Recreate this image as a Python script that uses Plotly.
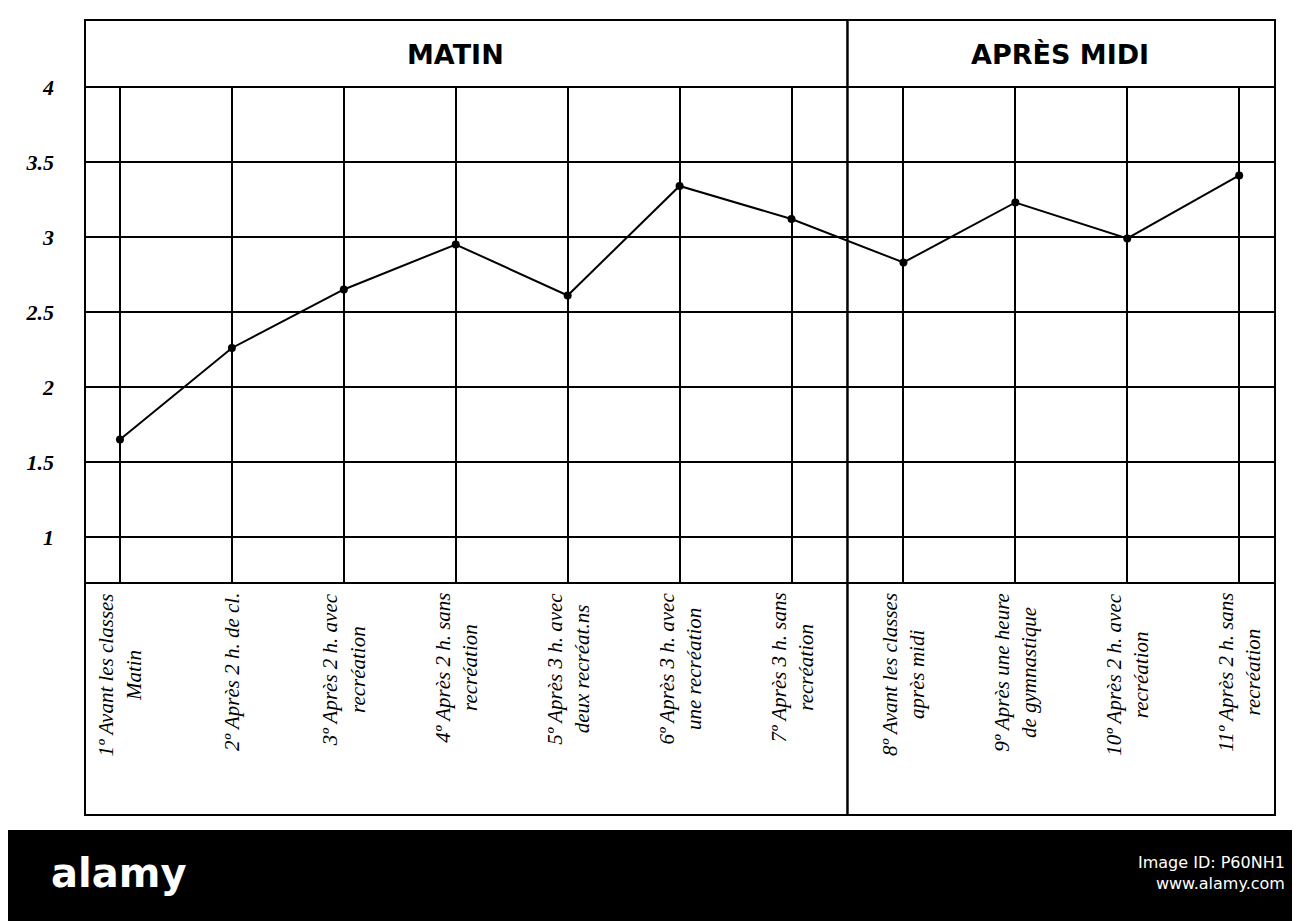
import plotly.graph_objects as go

idx = list(range(1, 12))
values = [1.65, 2.26, 2.65, 2.95, 2.61, 3.34, 3.12, 2.83, 3.23, 2.99, 3.41]
labels = ["1º Avant les classes<br>Matin", "2º Après 2 h. de cl.", "3º Après 2 h. avec<br>recréation",
          "4º Après 2 h. sans<br>recréation", "5º Après 3 h. avec<br>deux recréat.ns",
          "6º Après 3 h. avec<br>une recréation", "7º Après 3 h. sans<br>recréation",
          "8º Avant les classes<br>après midi", "9º Après une heure<br>de gymnastique",
          "10º Après 2 h. avec<br>recréation", "11º Après 2 h. sans<br>recréation"]
ytick_vals = [1, 1.5, 2, 2.5, 3, 3.5, 4]
ytick_text = ["1", "1.5", "2", "2.5", "3", "3.5", "4"]
sections = ["MATIN", "APRÈS MIDI"]

fig = go.Figure(go.Scatter(x=idx, y=values, mode="lines+markers",
                           line=dict(color="black", width=2),
                           marker=dict(color="black", size=8)))

H = 496.0
W = 1190.0
top = 1 + 67 / H
lab_bot = -232 / H
shapes = [
    dict(type="rect", xref="paper", yref="paper", x0=0, x1=1, y0=lab_bot, y1=top, line=dict(color="black", width=2)),
    dict(type="line", xref="paper", yref="paper", x0=0, x1=1, y0=1, y1=1, line=dict(color="black", width=2)),
    dict(type="line", xref="paper", yref="paper", x0=0, x1=1, y0=0, y1=0, line=dict(color="black", width=2)),
    dict(type="line", xref="x", yref="paper", x0=7.5, x1=7.5, y0=lab_bot, y1=top, line=dict(color="black", width=2.5)),
    dict(type="rect", xref="paper", yref="paper", x0=-100 / W, x1=1 + 50 / W, y0=-360 / H, y1=-247 / H,
         fillcolor="black", line=dict(width=0), layer="above"),
]
ann = []
for i, t in zip(idx, labels):
    ann.append(dict(x=i, y=-8 / H, xref="x", yref="paper", text=t, textangle=-90, showarrow=False,
                    xanchor="center", yanchor="top",
                    font=dict(family="Liberation Serif", size=21, style="italic", color="black")))
ann.append(dict(x=4.0, y=1 + 33 / H, xref="x", yref="paper", text=sections[0], showarrow=False,
                yanchor="middle", font=dict(family="DejaVu Sans", size=27, weight="bold", color="black")))
ann.append(dict(x=9.4, y=1 + 33 / H, xref="x", yref="paper", text=sections[1], showarrow=False,
                yanchor="middle", font=dict(family="DejaVu Sans", size=27, weight="bold", color="black")))
ann.append(dict(x=-0.03, y=-290 / H, xref="paper", yref="paper", text="alamy", showarrow=False, xanchor="left",
                yanchor="middle", font=dict(family="DejaVu Sans", size=40, weight="bold", color="white")))
ann.append(dict(x=1.01, y=-290 / H, xref="paper", yref="paper",
                text="Image ID: P60NH1<br>www.alamy.com", showarrow=False, xanchor="right", align="right",
                yanchor="middle", font=dict(family="DejaVu Sans", size=16, color="white")))

fig.update_layout(
    width=1300, height=921, plot_bgcolor="white", paper_bgcolor="white",
    margin=dict(l=77, r=33, t=79, b=346), showlegend=False,
    shapes=shapes, annotations=ann,
    xaxis=dict(range=[0.6875, 11.32], tickvals=idx, showticklabels=False, showgrid=True,
               gridcolor="black", gridwidth=1.5, zeroline=False, showline=False),
    yaxis=dict(range=[0.693, 4], tickvals=ytick_vals, ticktext=ytick_text, showgrid=True,
               gridcolor="black", gridwidth=1.5, zeroline=False, showline=False,
               ticks="", ticklabelstandoff=30,
               tickfont=dict(family="Liberation Serif", size=22, style="italic", weight="bold", color="black")),
)
fig.write_html("out.html")
